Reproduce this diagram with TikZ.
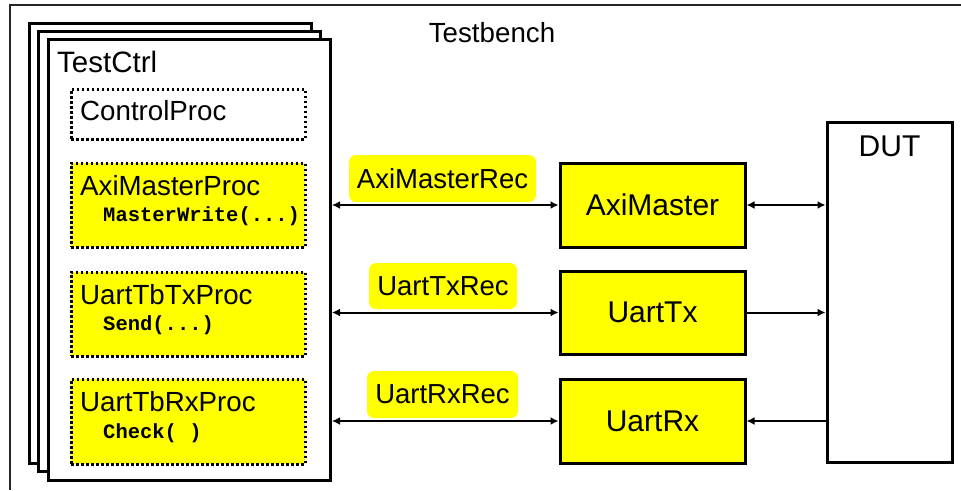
\documentclass[tikz,border=0pt]{standalone}
\usepackage{fontspec}
\setmainfont{Liberation Sans}
\setmonofont{Liberation Mono}
\usetikzlibrary{arrows.meta}
\definecolor{yel}{HTML}{FFFF00}
\tikzset{
  page/.style={draw=black, fill=white, line width=3pt},
  procbox/.style={draw=black, fill=yel, line width=2.5pt, dash pattern=on 2.5pt off 2.5pt, inner sep=0pt, anchor=north west},
  ctlbox/.style={procbox, fill=white},
  recbox/.style={fill=yel, rounded corners=7pt, inner sep=0pt, font=\fontsize{27.5}{32}\selectfont},
  compbox/.style={draw=black, fill=yel, line width=3pt, inner sep=0pt, font=\fontsize{30}{34}\selectfont},
  big/.style={inner sep=0pt, font=\fontsize{27.7}{32}\selectfont},
  mono/.style={inner sep=0pt, anchor=west, font=\fontsize{20.5}{24}\selectfont\ttfamily\bfseries},
  conn/.style={line width=2pt, {Latex[length=8pt,width=8pt]}-{Latex[length=8pt,width=8pt]}},
  connr/.style={line width=2pt, -{Latex[length=8pt,width=8pt]}}
}
\begin{document}
\begin{tikzpicture}[x=1pt,y=-1pt]
\useasboundingbox (0,0) rectangle (961,490);
% outer testbench frame (extends beyond picture)
\draw[line width=2pt, draw=black!85] (961,5) -- (10,5) -- (10,490);
\node[big] (tb) at (492,33) {Testbench};
% stacked pages
\node[page, minimum width=282pt, minimum height=440pt, anchor=north west] (p3) at (28,22) {};
\node[page, minimum width=282pt, minimum height=440pt, anchor=north west] (p2) at (37,30) {};
\node[page, minimum width=282pt, minimum height=441pt, anchor=north west] (tc) at (47,38) {};
\node[inner sep=0pt, anchor=west, font=\fontsize{29.5}{34}\selectfont] (tclabel) at (57,62) {TestCtrl};
% process boxes
\node[ctlbox, minimum width=234pt, minimum height=50pt] (cp) at (70,88) {};
\node[big, anchor=west] (cpl) at (80,111) {ControlProc};
\node[procbox, minimum width=234pt, minimum height=84pt] (amp) at (70,162) {};
\node[big, anchor=west] (ampl) at (80,186) {AxiMasterProc};
\node[mono] (ampm) at (103,216) {MasterWrite(...)};
\node[procbox, minimum width=234pt, minimum height=84pt] (txp) at (70,271) {};
\node[big, anchor=west] (txpl) at (80,295) {UartTbTxProc};
\node[mono] (txpm) at (103,325) {Send(...)};
\node[procbox, minimum width=234pt, minimum height=85pt] (rxp) at (70,378) {};
\node[big, anchor=west] (rxpl) at (80,402) {UartTbRxProc};
\node[mono] (rxpm) at (103,433) {Check( )};
% record labels
\node[recbox, minimum width=187pt, minimum height=47pt] (amr) at (442.5,178.5) {AxiMasterRec};
\node[recbox, minimum width=148pt, minimum height=46pt] (txr) at (443,286) {UartTxRec};
\node[recbox, minimum width=151pt, minimum height=47pt] (rxr) at (442.5,394.5) {UartRxRec};
% components
\node[compbox, minimum width=185pt, minimum height=84pt] (axi) at (652.5,205) {AxiMaster};
\node[compbox, minimum width=185pt, minimum height=83pt] (utx) at (652.5,312.5) {UartTx};
\node[compbox, minimum width=185pt, minimum height=84pt] (urx) at (652.5,421) {UartRx};
% DUT
\node[draw=black, fill=white, line width=3pt, minimum width=125pt, minimum height=340pt, inner sep=0pt] (dut) at (889.5,292) {};
\node[inner sep=0pt, font=\fontsize{30}{34}\selectfont] (dutl) at (889.5,146) {DUT};
% connectors
\draw[conn] (tc.east |- axi.west) -- (axi.west);
\draw[conn] (tc.east |- utx.west) -- (utx.west);
\draw[conn] (tc.east |- urx.west) -- (urx.west);
\draw[conn] (axi.east) -- (dut.west |- axi.east);
\draw[connr] (utx.east) -- (dut.west |- utx.east);
\draw[connr] (dut.west |- urx.east) -- (urx.east);
\end{tikzpicture}
\end{document}
